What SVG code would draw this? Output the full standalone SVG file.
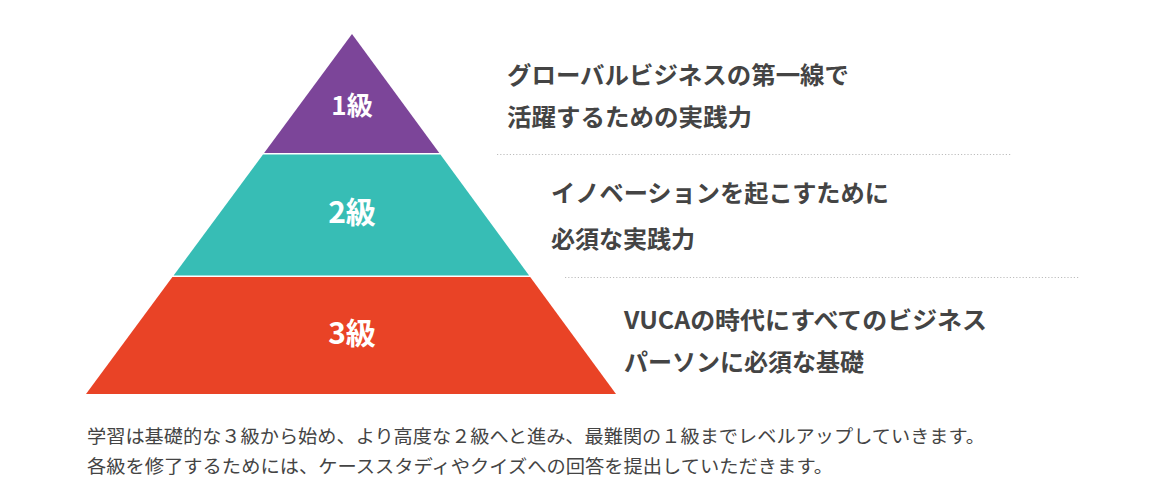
<svg xmlns="http://www.w3.org/2000/svg" width="1160" height="487" viewBox="0 0 1160 487">
<style>
.lvl{font-family:"Noto Sans CJK JP","Noto Sans",sans-serif;font-weight:bold;fill:#fff;text-anchor:middle}
.desc{font-family:"Noto Sans CJK JP","Noto Sans",sans-serif;font-weight:bold;fill:#444;font-size:24px}
.note{font-family:"Noto Sans CJK JP","Noto Sans",sans-serif;fill:#444;font-size:18.5px}
.dot{stroke:#bdbdbd;stroke-width:1.2;stroke-dasharray:1.2 2;fill:none}
</style>
<rect width="1160" height="487" fill="#fff"/>
<g id="level1">
<polygon points="352,34 439.3,153 264.1,153" fill="#7c4599"/>
<text class="lvl" x="352" y="115" font-size="26">1級</text>
</g>
<g id="level2">
<polygon points="263,154.5 440.4,154.5 529.1,275.5 173.6,275.5" fill="#37bdb5"/>
<text class="lvl" x="352" y="223" font-size="30">2級</text>
</g>
<g id="level3">
<polygon points="172.4,277 530.2,277 616,394 86,394" fill="#e94326"/>
<text class="lvl" x="352" y="344" font-size="30">3級</text>
</g>
<g id="desc1">
<text class="desc" x="507" y="84" textLength="342" lengthAdjust="spacingAndGlyphs">グローバルビジネスの第一線で</text>
<text class="desc" x="507" y="126" textLength="245" lengthAdjust="spacingAndGlyphs">活躍するための実践力</text>
</g>
<g id="desc2">
<text class="desc" x="551" y="202" textLength="338" lengthAdjust="spacingAndGlyphs">イノベーションを起こすために</text>
<text class="desc" x="551" y="248">必須な実践力</text>
</g>
<g id="desc3">
<text class="desc" x="624" y="329" textLength="363" lengthAdjust="spacingAndGlyphs">VUCAの時代にすべてのビジネス</text>
<text class="desc" x="624" y="371" textLength="240" lengthAdjust="spacingAndGlyphs">パーソンに必須な基礎</text>
</g>
<g id="connectors">
<line class="dot" x1="497" y1="154.5" x2="1012" y2="154.5"/>
<line class="dot" x1="565" y1="277.5" x2="1080" y2="277.5"/>
</g>
<g id="note">
<text class="note" x="87" y="443" textLength="898" lengthAdjust="spacingAndGlyphs">学習は基礎的な３級から始め、より高度な２級へと進み、最難関の１級までレベルアップしていきます。</text>
<text class="note" x="87" y="473" textLength="746" lengthAdjust="spacingAndGlyphs">各級を修了するためには、ケーススタディやクイズへの回答を提出していただきます。</text>
</g>
</svg>
